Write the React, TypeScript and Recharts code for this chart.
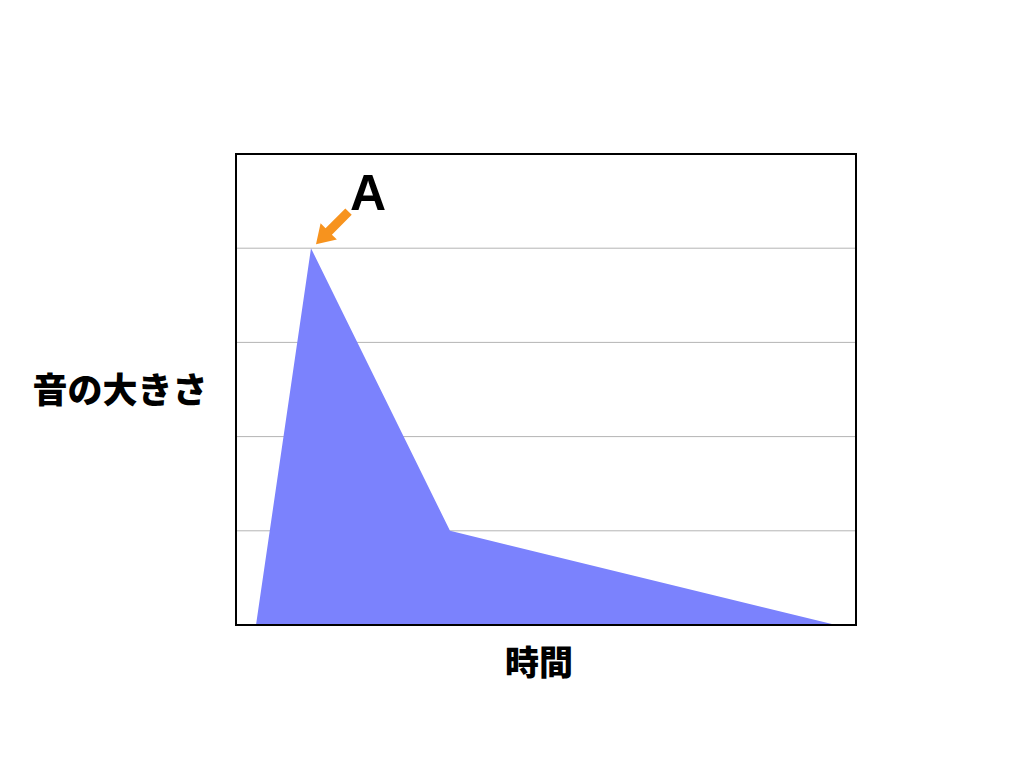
import { AreaChart, Area, XAxis, YAxis, CartesianGrid, ReferenceArea, ReferenceDot } from 'recharts';

// sound envelope: time vs loudness
const times = [1, 3.75, 10.7, 30];
const levels = [0, 4, 1, 0];
const levelTicks = [0, 1, 2, 3, 4, 5];
const peakLabel = 'A';

const data = times.map((t, i) => ({ t, v: levels[i] }));

const jp = '"Noto Sans CJK JP", "Noto Sans", sans-serif';

// orange arrow pointing at the peak, with its letter
function PeakMarker(props: any) {
  const { cx, cy } = props;
  const tipX = cx + 5;
  const tipY = cy - 4;
  const u = Math.SQRT1_2;
  const headLen = 18;
  const headHalf = 11.5;
  const shaftHalf = 4.5;
  const shaftLen = 28;
  const bx = tipX + headLen * u;
  const by = tipY - headLen * u;
  const ex = bx + shaftLen * u;
  const ey = by - shaftLen * u;
  const pts = [
    [tipX, tipY],
    [bx - headHalf * u, by - headHalf * u],
    [bx - shaftHalf * u, by - shaftHalf * u],
    [ex - shaftHalf * u, ey - shaftHalf * u],
    [ex + shaftHalf * u, ey + shaftHalf * u],
    [bx + shaftHalf * u, by + shaftHalf * u],
    [bx + headHalf * u, by + headHalf * u],
  ];
  return (
    <g>
      <polygon points={pts.map((p) => p.join(',')).join(' ')} fill="#f7931e" />
      <text
        x={cx + 57}
        y={cy - 38}
        textAnchor="middle"
        fontFamily='"Liberation Sans", Arial, sans-serif'
        fontWeight="bold"
        fontSize={50}
        fill="#000"
      >
        {peakLabel}
      </text>
    </g>
  );
}

export default function App() {
  return (
    <div style={{ position: 'absolute', left: 0, top: 0, width: 1024, height: 768, background: '#fff' }}>
      <AreaChart
        width={1024}
        height={768}
        data={data}
        margin={{ top: 154, right: 168, bottom: 143, left: 236 }}
      >
        <XAxis dataKey="t" type="number" domain={[0, 31]} hide />
        <YAxis type="number" domain={[0, 5]} ticks={levelTicks} hide />
        <CartesianGrid vertical={false} stroke="#b4b4b4" strokeWidth={1} />
        <Area
          type="linear"
          dataKey="v"
          stroke="none"
          fill="#7b82fd"
          fillOpacity={1}
          isAnimationActive={false}
        />
        <ReferenceArea x1={0} x2={31} y1={0} y2={5} fill="none" stroke="#000" strokeWidth={2} />
        <ReferenceDot x={times[1]} y={levels[1]} shape={PeakMarker} />
      </AreaChart>
      <div
        style={{
          position: 'absolute',
          left: 20,
          width: 200,
          top: 370,
          textAlign: 'center',
          fontFamily: jp,
          fontWeight: 900,
          fontSize: 35,
          lineHeight: '36px',
        }}
      >
        音の大きさ
      </div>
      <div
        style={{
          position: 'absolute',
          left: 439,
          width: 200,
          top: 643,
          textAlign: 'center',
          fontFamily: jp,
          fontWeight: 900,
          fontSize: 34,
          lineHeight: '36px',
        }}
      >
        時間
      </div>
    </div>
  );
}
